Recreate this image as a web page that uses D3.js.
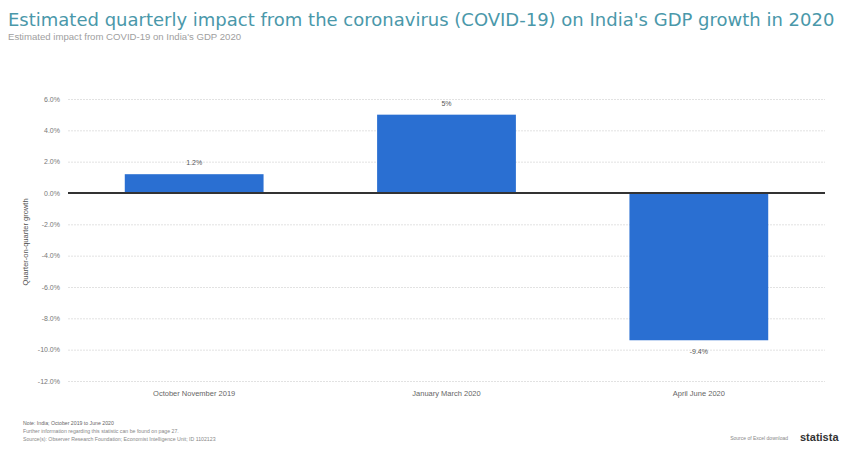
<!DOCTYPE html>
<html><head><meta charset="utf-8">
<script src="https://cdn.jsdelivr.net/npm/d3@7"></script>
<style>body{margin:0;background:#fff}svg{display:block}text{font-family:"Liberation Sans",Arial,sans-serif}</style>
</head><body><svg id="c" width="846" height="458"></svg>
<script>
const categories = ["October November 2019", "January March 2020", "April June 2020"];
const values = [1.2, 5, -9.4];
const valueLabels = ["1.2%", "5%", "-9.4%"];
const yTicks = [6, 4, 2, 0, -2, -4, -6, -8, -10, -12];
const yTickLabels = ["6.0%", "4.0%", "2.0%", "0.0%", "-2.0%", "-4.0%", "-6.0%", "-8.0%", "-10.0%", "-12.0%"];
const title = "Estimated quarterly impact from the coronavirus (COVID-19) on India's GDP growth in 2020";
const subtitle = "Estimated impact from COVID-19 on India's GDP 2020";
const yTitle = "Quarter-on-quarter growth";
const notes = ["Note: India; October 2019 to June 2020", "Further information regarding this statistic can be found on page 27.", "Source(s): Observer Research Foundation; Economist Intelligence Unit; ID 1102123"];

(function () {
const svg = d3.select("#c");
const pL = 68, pR = 825, pT = 99, pB = 381;
const x = d3.scaleBand().domain(categories).range([pL, pR]).paddingInner(0.45).paddingOuter(0.225);
const y = d3.scaleLinear().domain([-12, 6]).range([pB, pT]);

svg.append("text").attr("x", 8).attr("y", 26).style("font-size", "18px").style("font-family", "'DejaVu Sans', Verdana, sans-serif").attr("fill", "#4a98aa").text(title);
svg.append("text").attr("x", 8).attr("y", 40).attr("font-size", 9.6).attr("fill", "#a0a0a0").text(subtitle);

// grid
const yAxis = d3.axisLeft(y).tickValues(yTicks).tickSize(-(pR - pL)).tickFormat((d, i) => yTickLabels[i]);
const ga = svg.append("g").attr("transform", `translate(${pL},0)`).call(yAxis);
ga.select(".domain").remove();
ga.selectAll(".tick line").attr("stroke", "#e2e2e2").attr("stroke-dasharray", "2,1");
ga.selectAll(".tick text").attr("x", -8).attr("font-size", 7).attr("fill", "#777");

// bars
svg.selectAll("rect.bar").data(values).enter().append("rect")
  .attr("x", (d, i) => x(categories[i]))
  .attr("width", x.bandwidth())
  .attr("y", d => y(Math.max(0, d)))
  .attr("height", d => Math.abs(y(d) - y(0)))
  .attr("fill", "#2a6fd2");

// zero line
svg.append("line").attr("x1", pL).attr("x2", pR).attr("y1", y(0)).attr("y2", y(0)).attr("stroke", "#333").attr("stroke-width", 2);

// value labels
svg.selectAll("text.val").data(values).enter().append("text")
  .attr("x", (d, i) => x(categories[i]) + x.bandwidth() / 2)
  .attr("y", d => d >= 0 ? y(d) - 9 : y(d) + 14)
  .attr("text-anchor", "middle").attr("font-size", 7).attr("fill", "#555")
  .text((d, i) => valueLabels[i]);

// x axis labels
const xAxis = d3.axisBottom(x).tickSize(0);
const gx = svg.append("g").attr("transform", `translate(0,${pB + 7})`).call(xAxis);
gx.select(".domain").remove();
gx.selectAll(".tick text").attr("font-size", 7.5).attr("fill", "#666");

// y title
svg.append("text").attr("transform", `translate(28,${(pT + pB) / 2 + 2}) rotate(-90)`)
  .attr("text-anchor", "middle").attr("font-size", 7.5).attr("fill", "#555").text(yTitle);

// notes
notes.forEach((n, i) => {
  svg.append("text").attr("x", 23).attr("y", 425 + i * 8).attr("font-size", 5.2).attr("fill", i === 0 ? "#666" : "#888").text(n);
});
svg.append("text").attr("x", 788).attr("y", 440).attr("text-anchor", "end").attr("font-size", 5).attr("fill", "#888").text("Source of Excel download");
svg.append("text").attr("x", 800).attr("y", 441).attr("font-size", 11).attr("font-weight", "bold").attr("fill", "#333").text("statista");
})();
</script></body></html>
